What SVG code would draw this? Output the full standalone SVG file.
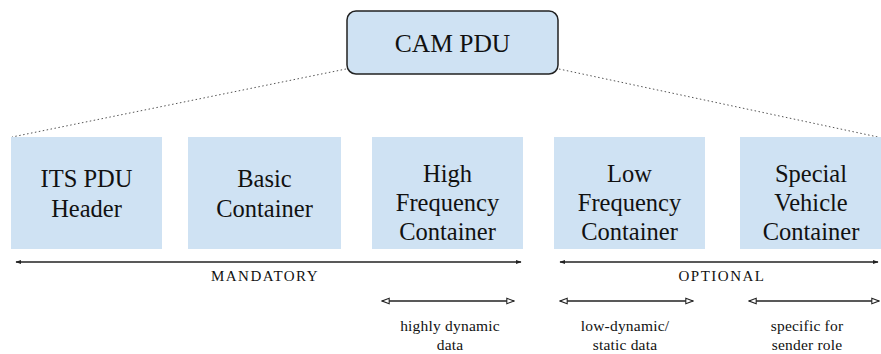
<svg xmlns="http://www.w3.org/2000/svg" width="881" height="354" viewBox="0 0 881 354">
<style>
.box{fill:#cfe2f3;}
.t{fill:#111;text-anchor:middle;}
.big{font-size:24.5px;}
.lab{font-size:15px;letter-spacing:1.5px;}
.sm{font-size:15.5px;letter-spacing:0.2px;}
.dot{stroke:#555;stroke-width:1;stroke-dasharray:1.5 2.5;fill:none;}
.ln{stroke:#222;stroke-width:1.3;fill:none;}
</style>
<defs>
<marker id="fa" viewBox="0 0 10 10" refX="9" refY="5" markerWidth="6" markerHeight="6" markerUnits="userSpaceOnUse" orient="auto-start-reverse">
<path d="M0,1.5 L10,5 L0,8.5 z" fill="#222"/>
</marker>
<marker id="oa" viewBox="0 0 10 10" refX="9" refY="5" markerWidth="9" markerHeight="9" markerUnits="userSpaceOnUse" orient="auto-start-reverse">
<path d="M1,2 L9,5 L1,8 z" fill="#fff" stroke="#222" stroke-width="1.2"/>
</marker>
</defs>
<g id="connectors">
<line class="dot" x1="346" y1="69" x2="12" y2="137"/>
<line class="dot" x1="559" y1="69" x2="878" y2="137"/>
<line class="ln" x1="16" y1="262" x2="521" y2="262" marker-start="url(#fa)" marker-end="url(#fa)"/>
<line class="ln" x1="560" y1="262" x2="878" y2="262" marker-start="url(#fa)" marker-end="url(#fa)"/>
<line class="ln" x1="382" y1="301" x2="514" y2="301" marker-start="url(#oa)" marker-end="url(#oa)"/>
<line class="ln" x1="560" y1="301" x2="693" y2="301" marker-start="url(#oa)" marker-end="url(#oa)"/>
<line class="ln" x1="749" y1="301" x2="879" y2="301" marker-start="url(#oa)" marker-end="url(#oa)"/>
</g>
<g font-family="'Liberation Serif', 'DejaVu Serif', serif">
<g id="cam-pdu">
<rect x="347" y="11" width="211" height="63" rx="9" fill="#cfe2f3" stroke="#222" stroke-width="1.5"/>
<text class="t" x="452.5" y="52" font-size="25.5">CAM PDU</text>
</g>
<g id="its-pdu-header">
<rect class="box" x="11" y="137" width="151" height="112"/>
<text class="t big" x="86.5" y="187">ITS PDU</text>
<text class="t big" x="86.5" y="217">Header</text>
</g>
<g id="basic-container">
<rect class="box" x="188" y="137" width="153" height="112"/>
<text class="t big" x="264.5" y="187">Basic</text>
<text class="t big" x="264.5" y="217">Container</text>
</g>
<g id="high-frequency-container">
<rect class="box" x="372" y="137" width="151" height="112"/>
<text class="t big" x="447.5" y="182">High</text>
<text class="t big" x="447.5" y="211">Frequency</text>
<text class="t big" x="447.5" y="240">Container</text>
</g>
<g id="low-frequency-container">
<rect class="box" x="554" y="137" width="151" height="112"/>
<text class="t big" x="629.5" y="182">Low</text>
<text class="t big" x="629.5" y="211">Frequency</text>
<text class="t big" x="629.5" y="240">Container</text>
</g>
<g id="special-vehicle-container">
<rect class="box" x="740" y="137" width="151" height="112"/>
<text class="t big" x="811" y="182">Special</text>
<text class="t big" x="811" y="211">Vehicle</text>
<text class="t big" x="811" y="240">Container</text>
</g>
<g id="labels">
<text class="t lab" x="265" y="281">MANDATORY</text>
<text class="t lab" x="722" y="281">OPTIONAL</text>
<text class="t sm" x="450" y="331">highly dynamic</text>
<text class="t sm" x="450" y="350">data</text>
<text class="t sm" x="625" y="331">low-dynamic/</text>
<text class="t sm" x="625" y="350">static data</text>
<text class="t sm" x="807" y="331">specific for</text>
<text class="t sm" x="807" y="350">sender role</text>
</g>
</g>
</svg>
